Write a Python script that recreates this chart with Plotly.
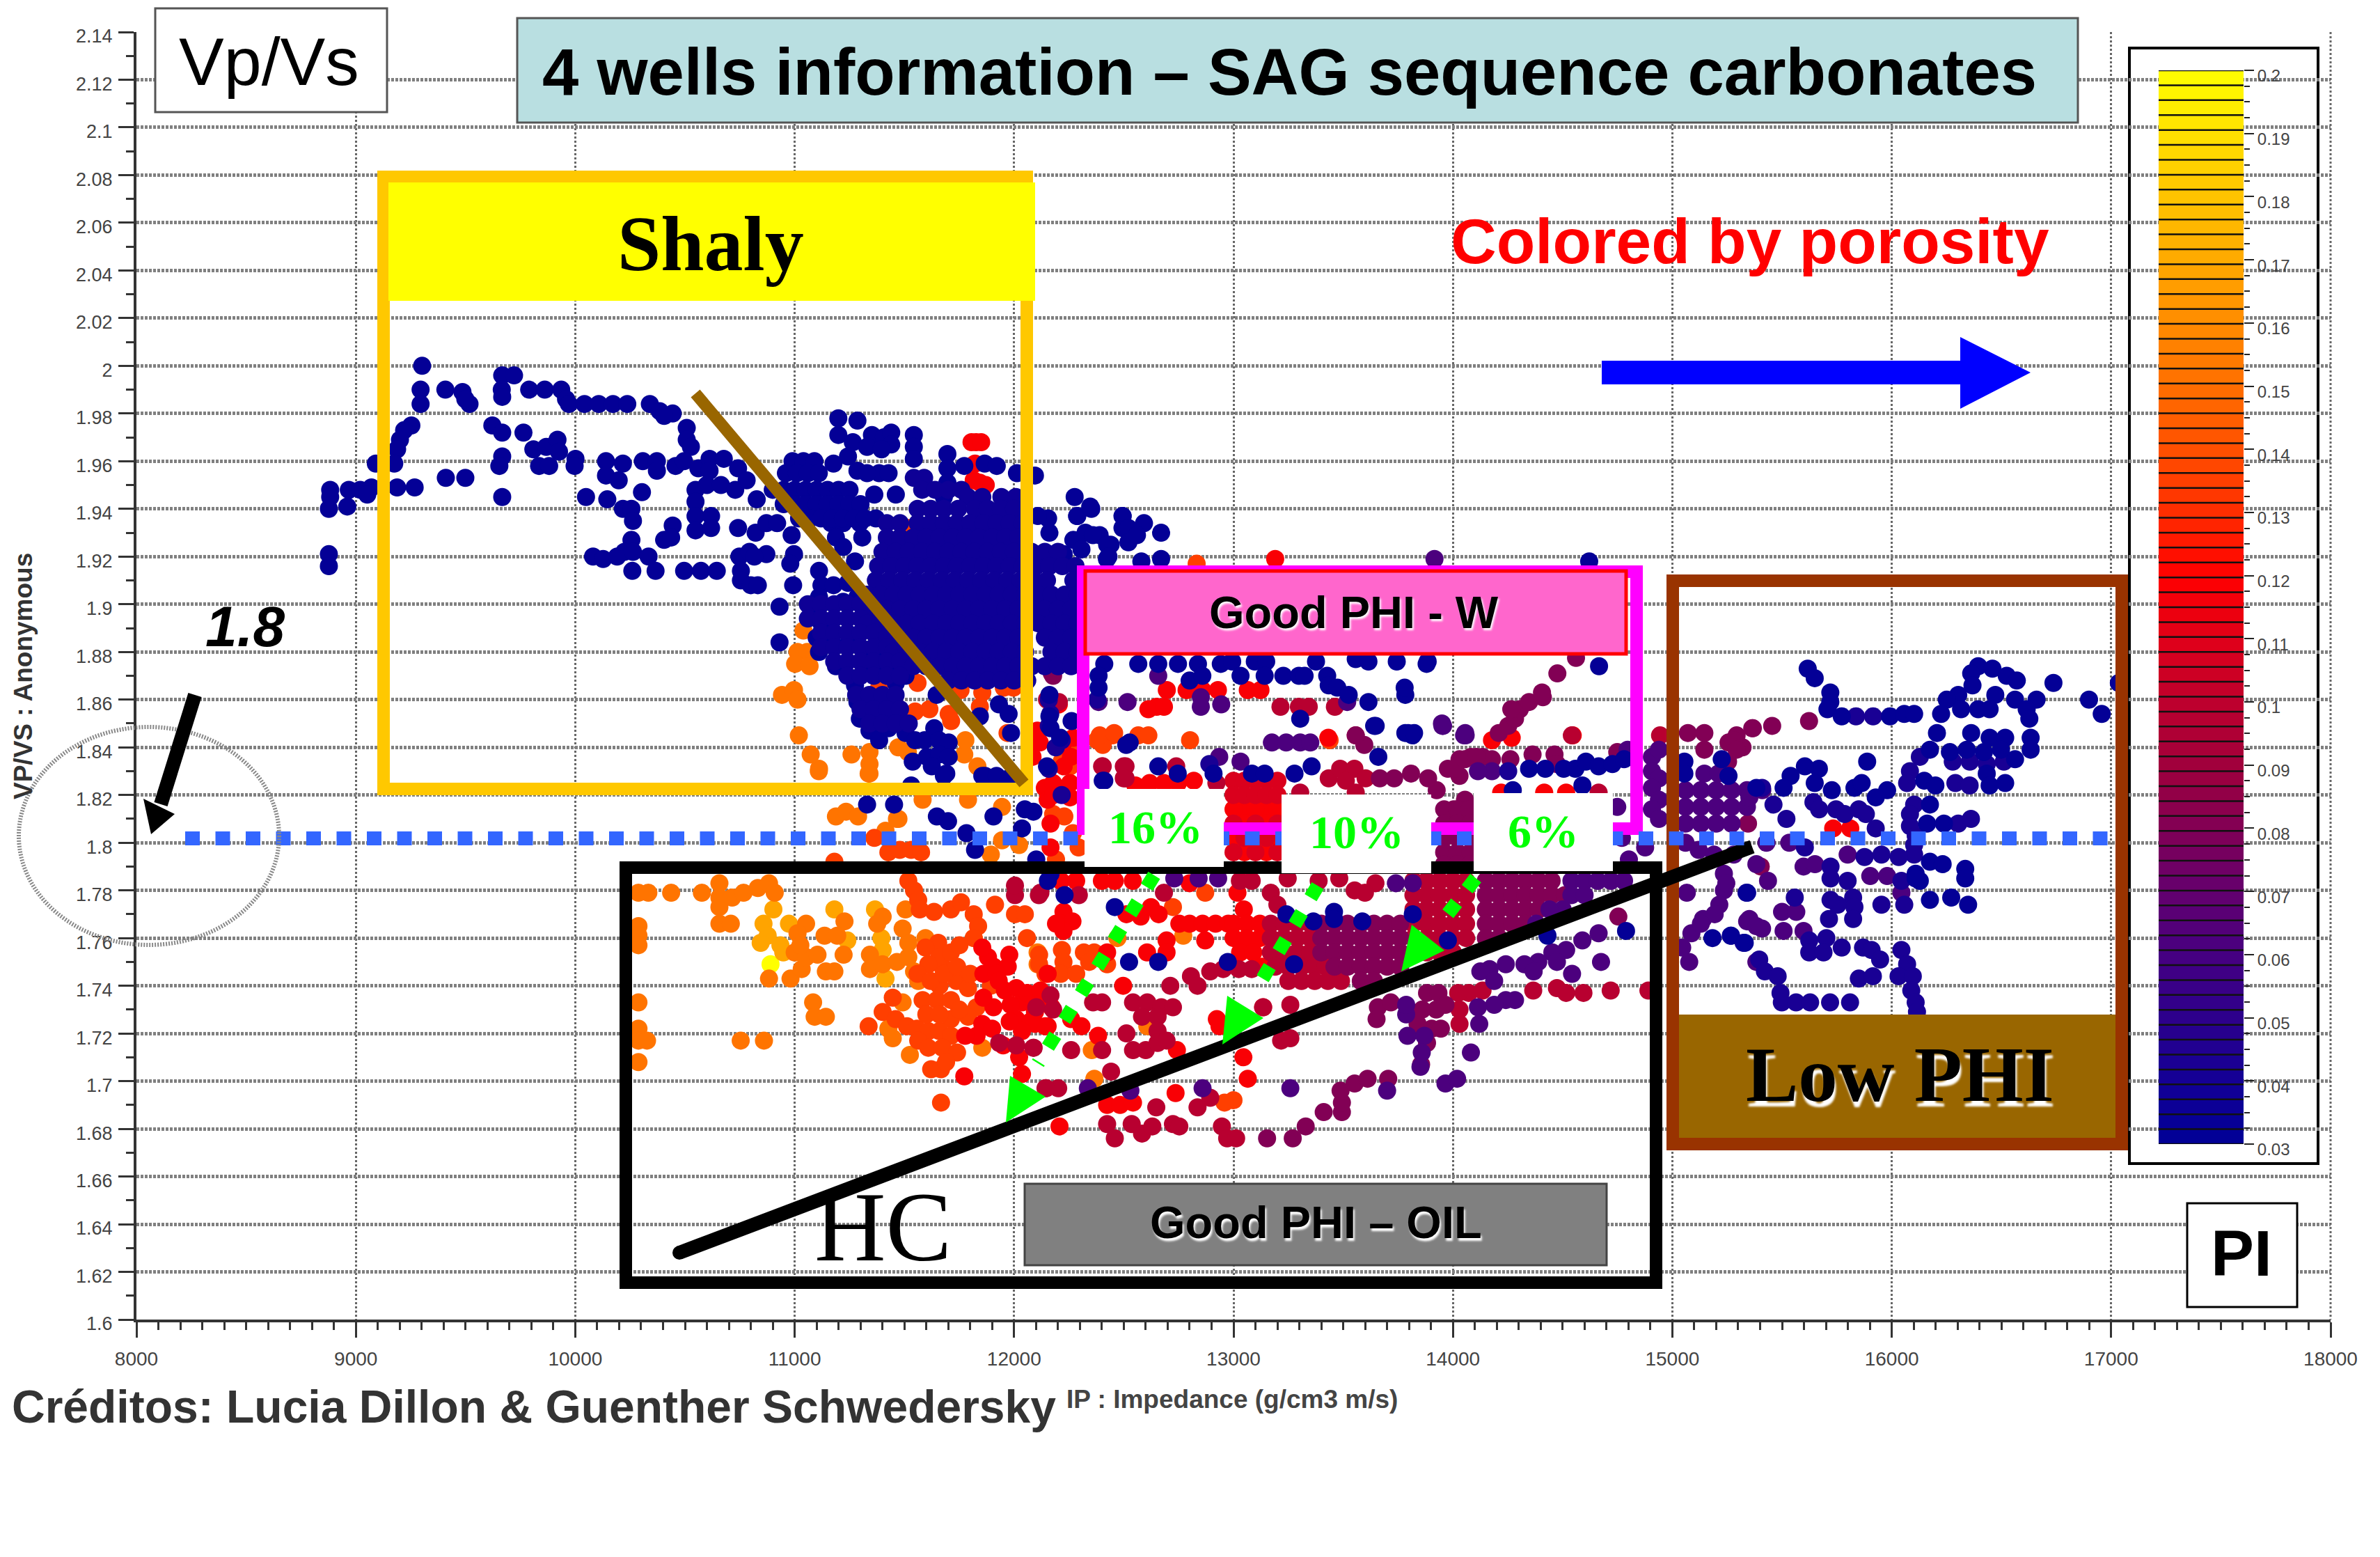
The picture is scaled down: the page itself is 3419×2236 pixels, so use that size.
import plotly.graph_objects as go

# page size and plot frame (page pixels)
W, H = 3419, 2236
L, R, T, B = 196, 3348, 46, 1895

ip_ticks = [8000, 9000, 10000, 11000, 12000, 13000, 14000, 15000, 16000, 17000, 18000]
vpvs_ticks = [1.6, 1.62, 1.64, 1.66, 1.68, 1.7, 1.72, 1.74, 1.76, 1.78, 1.8, 1.82, 1.84, 1.86,
              1.88, 1.9, 1.92, 1.94, 1.96, 1.98, 2, 2.02, 2.04, 2.06, 2.08, 2.1, 2.12, 2.14]
pi_ticks = [0.03, 0.04, 0.05, 0.06, 0.07, 0.08, 0.09, 0.1, 0.11, 0.12, 0.13, 0.14, 0.15, 0.16,
            0.17, 0.18, 0.19, 0.2]

pi_scale = [[0, "rgb(0,0,150)"], [0.059, "rgb(20,0,150)"], [0.118, "rgb(45,0,140)"],
            [0.176, "rgb(70,0,130)"], [0.235, "rgb(100,0,110)"], [0.294, "rgb(130,0,85)"],
            [0.353, "rgb(160,0,60)"], [0.412, "rgb(190,0,45)"], [0.471, "rgb(225,0,25)"],
            [0.529, "rgb(255,0,0)"], [0.588, "rgb(255,45,0)"], [0.647, "rgb(255,80,0)"],
            [0.706, "rgb(255,110,0)"], [0.765, "rgb(255,140,0)"], [0.824, "rgb(255,170,0)"],
            [0.882, "rgb(255,195,0)"], [0.941, "rgb(255,225,0)"], [1, "rgb(255,255,0)"]]

# points, (IP, VP/VS), one list per porosity colour
blue_pts = [
    (9302, 2.000), (9295, 1.990), (9295, 1.984), (9408, 1.990), (9486, 1.989), (9518, 1.984), (9499, 1.986),
    (9667, 1.996), (9721, 1.996), (9665, 1.990), (9667, 1.987), (9790, 1.990), (9861, 1.990), (9936, 1.990),
    (9958, 1.986), (9971, 1.984), (10042, 1.984), (10107, 1.984), (10172, 1.984), (10237, 1.984),
    (10340, 1.984), (10385, 1.981), (10444, 1.980), (10405, 1.979), (10508, 1.974), (10508, 1.969),
    (10527, 1.966), (9253, 1.975), (9220, 1.973), (9201, 1.969), (9188, 1.965), (9175, 1.959), (9091, 1.959),
    (8883, 1.948), (8877, 1.940), (8883, 1.945), (8961, 1.941), (8968, 1.948), (9020, 1.948), (9071, 1.949),
    (9052, 1.946), (9188, 1.949), (9268, 1.949), (9410, 1.953), (9499, 1.953), (9622, 1.975), (9667, 1.972),
    (9764, 1.972), (9667, 1.962), (9654, 1.958), (9667, 1.945), (9809, 1.965), (9868, 1.966), (9919, 1.969),
    (9926, 1.964), (9835, 1.958), (9881, 1.958), (10001, 1.961), (9997, 1.958), (10140, 1.960), (10140, 1.954),
    (10217, 1.959), (10198, 1.952), (10308, 1.960), (10372, 1.960), (10372, 1.956), (10457, 1.958),
    (10304, 1.947), (10049, 1.945), (10146, 1.944), (10217, 1.940), (10256, 1.940), (10263, 1.935),
    (10081, 1.920), (10127, 1.919), (10256, 1.927), (10224, 1.922), (10191, 1.920), (10263, 1.922),
    (10334, 1.920), (10260, 1.914), (10366, 1.914), (10496, 1.914), (10573, 1.914), (10645, 1.914),
    (8877, 1.921), (8877, 1.916), (10405, 1.927), (10444, 1.933), (10437, 1.928), (10548, 1.948), (10548, 1.943),
    (10548, 1.937), (10548, 1.931), (10619, 1.937), (10619, 1.932), (10742, 1.932), (10748, 1.920),
    (10755, 1.914), (10755, 1.910), (10800, 1.908), (10794, 1.922), (10496, 1.960), (10561, 1.957),
    (10612, 1.961), (10677, 1.961), (10612, 1.956), (10599, 1.950), (10664, 1.950), (10729, 1.948),
    (10742, 1.957), (10781, 1.952), (11199, 1.978), (11199, 1.971), (11286, 1.977), (11265, 1.968),
    (11352, 1.971), (11407, 1.970), (11440, 1.972), (11440, 1.967), (11330, 1.966), (11396, 1.965),
    (11543, 1.971), (11543, 1.966), (11543, 1.961), (11696, 1.963), (11696, 1.957), (11696, 1.951),
    (11680, 1.945), (11773, 1.958), (11866, 1.959), (11921, 1.958), (12013, 1.955), (12095, 1.954),
    (12276, 1.945), (12347, 1.941), (12287, 1.937), (12155, 1.936), (12161, 1.930), (12108, 1.937),
    (12226, 1.921), (12270, 1.927), (12325, 1.930), (12390, 1.929), (12440, 1.925), (12423, 1.919),
    (12494, 1.937), (12494, 1.932), (12288, 1.937), (12352, 1.940), (12495, 1.937), (12592, 1.934),
    (12670, 1.930), (12521, 1.932), (12521, 1.926), (12560, 1.929), (12307, 1.923), (12359, 1.929),
    (12424, 1.925), (12430, 1.920), (12580, 1.918), (12670, 1.919), (12411, 1.875), (12566, 1.875),
    (12657, 1.875), (12747, 1.875), (12838, 1.875), (12942, 1.875), (12994, 1.876), (13097, 1.876),
    (13149, 1.876), (13376, 1.876), (13557, 1.877), (13615, 1.876), (13744, 1.876), (13880, 1.875),
    (12385, 1.870), (12385, 1.865), (12800, 1.868), (12858, 1.870), (13032, 1.870), (13142, 1.870),
    (13227, 1.870), (13298, 1.870), (13324, 1.870), (13427, 1.870), (13434, 1.866), (13473, 1.865),
    (13525, 1.862), (13615, 1.859), (13783, 1.862), (13304, 1.852), (13648, 1.849), (13783, 1.846),
    (13816, 1.845), (13660, 1.836), (12527, 1.842), (12404, 1.826), (12657, 1.832), (12746, 1.829),
    (12909, 1.829), (13084, 1.829), (13142, 1.829), (13278, 1.829), (13356, 1.832), (14621, 1.918),
    (13885, 1.876), (13780, 1.865), (13641, 1.849), (13796, 1.846), (14666, 1.874), (13823, 1.846),
    (14421, 1.831), (14505, 1.831), (14558, 1.831), (14606, 1.834), (14664, 1.832), (14727, 1.833),
    (14780, 1.835), (14347, 1.831), (15055, 1.834), (15055, 1.829), (15225, 1.835), (15256, 1.828),
    (15383, 1.823), (12230, 1.778), (12459, 1.773), (12524, 1.750), (12657, 1.750), (12974, 1.750),
    (13276, 1.749), (13241, 1.770), (13364, 1.767), (13458, 1.771), (13458, 1.768), (13587, 1.767),
    (13817, 1.770), (12154, 1.784), (14273, 1.822), (14590, 1.824), (13977, 1.759), (14431, 1.761),
    (14789, 1.763), (15183, 1.760), (15267, 1.761), (15330, 1.758), (15341, 1.779),
    (11330, 1.816), (11453, 1.816), (11648, 1.811), (11699, 1.809), (11783, 1.804), (11822, 1.797),
    (11680, 1.828), (11868, 1.828), (11906, 1.811), (12049, 1.814), (12088, 1.813), (12036, 1.806),
    (12101, 1.793), (12166, 1.787), (11531, 1.824), (10822, 1.930), (10871, 1.934), (10920, 1.934),
    (10986, 1.929), (10871, 1.921), (10816, 1.920), (10997, 1.921), (10980, 1.917), (10832, 1.908),
    (10993, 1.908), (10931, 1.899), (10931, 1.884), (10827, 1.944), (11166, 1.934), (11221, 1.934),
    (11188, 1.928), (11221, 1.924), (11275, 1.918), (11308, 1.928), (11297, 1.934), (11111, 1.914),
    (11122, 1.908), (11111, 1.903), (11090, 1.897), (11122, 1.892), (11100, 1.886), (11111, 1.880),
    (11188, 1.874), (11177, 1.883), (11243, 1.883), (11221, 1.901), (11177, 1.908), (11243, 1.909),
    (11286, 1.903), (11319, 1.895), (11265, 1.886), (11319, 1.876), (11385, 1.881), (11450, 1.875),
    (11396, 1.873), (11275, 1.866), (11286, 1.859), (11352, 1.861), (11461, 1.867), (11505, 1.870),
    (11297, 1.852), (11374, 1.854), (11461, 1.855), (11341, 1.847), (11385, 1.843), (11428, 1.848),
    (11505, 1.846), (11549, 1.843), (11538, 1.834), (11592, 1.843), (11636, 1.848), (11658, 1.843),
    (11702, 1.842), (11603, 1.836), (11658, 1.837), (11702, 1.836), (11625, 1.832), (11691, 1.829),
    (11855, 1.828), (11920, 1.828), (11975, 1.827), (12150, 1.832), (11844, 1.853), (11931, 1.858),
    (11975, 1.854), (11986, 1.846), (11647, 1.862), (12161, 1.862), (12161, 1.853), (12166, 1.848),
    (12210, 1.844), (12262, 1.851), (12411, 1.826), (12511, 1.841),
    (10990, 1.960), (11040, 1.960), (11090, 1.960), (10960, 1.955), (11010, 1.955), (11060, 1.955),
    (11110, 1.955), (11177, 1.959), (11243, 1.962), (10900, 1.948), (10950, 1.948), (11000, 1.948),
    (11050, 1.948), (11100, 1.948), (11150, 1.948), (11200, 1.948), (11250, 1.948), (11286, 1.956),
    (11385, 1.955), (11428, 1.955), (11330, 1.955), (10950, 1.942), (11000, 1.942), (11050, 1.942),
    (11100, 1.942), (11150, 1.942), (11200, 1.942), (11250, 1.942), (11300, 1.942), (11363, 1.946),
    (11461, 1.946), (11020, 1.936), (11070, 1.936), (11120, 1.936), (11170, 1.936), (11220, 1.936),
    (11270, 1.936), (11320, 1.936), (11370, 1.936),
    (15617, 1.873), (15649, 1.869), (15720, 1.863), (15720, 1.859), (15707, 1.856), (15772, 1.853),
    (15992, 1.853), (16057, 1.854), (16102, 1.854), (16394, 1.874), (16362, 1.871), (16368, 1.866),
    (16459, 1.873), (16524, 1.870), (16570, 1.868), (16472, 1.862), (16562, 1.860), (16660, 1.860),
    (16615, 1.856), (16627, 1.852), (16303, 1.862), (16251, 1.860), (16225, 1.854), (16316, 1.856),
    (16394, 1.856), (16446, 1.856), (16737, 1.867), (16899, 1.860), (16957, 1.854), (17035, 1.867),
    (16206, 1.846), (16362, 1.846), (16446, 1.844), (16517, 1.844), (16633, 1.844), (16633, 1.839),
    (16174, 1.839), (16265, 1.838), (16342, 1.839), (16420, 1.838), (16498, 1.839), (16562, 1.835),
    (16148, 1.826), (16199, 1.824), (16433, 1.829), (16446, 1.824), (16517, 1.825),
    (16174, 1.816), (16174, 1.776), (16271, 1.777), (16348, 1.774), (16161, 1.808), (16238, 1.808),
    (16174, 1.792), (16232, 1.791), (16335, 1.789), (16335, 1.785), (16109, 1.787), (16128, 1.784),
    (15888, 1.834), (15830, 1.823), (15863, 1.825), (15979, 1.822), (15927, 1.819), (15727, 1.822),
    (15668, 1.831), (15604, 1.832), (15539, 1.828), (15507, 1.823), (15649, 1.825), (16109, 1.785),
]

indigo_pts = [
    (11837, 1.899), (12379, 1.860), (12190, 1.840), (12217, 1.843), (12158, 1.860), (12165, 1.854),
    (12158, 1.849), (12217, 1.820), (12158, 1.831), (12890, 1.833), (14252, 1.830),
    (15837, 1.853), (15915, 1.853), (16128, 1.836), (16083, 1.830), (16070, 1.825), (16290, 1.825),
    (16355, 1.824), (16278, 1.834), (16356, 1.834), (16433, 1.833), (16511, 1.834), (16102, 1.816),
    (16083, 1.812), (16083, 1.807), (16303, 1.808), (16361, 1.810), (16109, 1.803), (16102, 1.799),
    (16102, 1.795), (15461, 1.816), (15520, 1.810), (15409, 1.823), (15643, 1.817), (15669, 1.814),
    (15746, 1.814), (15785, 1.812), (15850, 1.814), (15882, 1.812), (15927, 1.806), (15604, 1.798),
    (15721, 1.790), (15876, 1.794), (15953, 1.795), (16032, 1.794), (15721, 1.785), (15799, 1.784),
    (16044, 1.784), (15721, 1.776), (15824, 1.777), (15830, 1.773), (15824, 1.768), (15753, 1.774),
    (15953, 1.774), (16057, 1.774), (15714, 1.768), (15338, 1.779), (15558, 1.777), (15267, 1.761),
    (15325, 1.758), (15624, 1.759), (15702, 1.760), (15624, 1.754), (15689, 1.754), (15772, 1.756),
    (15869, 1.756), (15908, 1.755), (15947, 1.751), (16044, 1.755), (15396, 1.751), (15422, 1.746),
    (15480, 1.744), (15493, 1.737), (15499, 1.733), (15564, 1.733), (15628, 1.733), (15719, 1.733),
    (15810, 1.733), (15850, 1.743), (15914, 1.744), (16070, 1.749), (16031, 1.744), (16096, 1.744),
    (16089, 1.738), (16109, 1.733), (16115, 1.729),
]

purple_pts = [
    (12657, 1.870), (12517, 1.859), (12385, 1.859), (12851, 1.861), (12851, 1.857), (12944, 1.858),
    (13518, 1.859), (13952, 1.849), (14058, 1.845), (13175, 1.842), (13240, 1.842), (13304, 1.842),
    (13350, 1.842), (12935, 1.836), (13032, 1.834), (13916, 1.919), (13950, 1.850), (14056, 1.846),
    (13955, 1.849), (14051, 1.845), (14796, 1.839), (14907, 1.836), (14939, 1.839), (14907, 1.830),
    (14939, 1.827), (14907, 1.823), (14939, 1.818), (14907, 1.814), (14939, 1.810), (14178, 1.830),
    (14114, 1.830), (14749, 1.815), (14802, 1.793), (14876, 1.798), (14770, 1.802),
    (15060, 1.822), (15130, 1.822), (15200, 1.822), (15270, 1.822), (15340, 1.822), (15410, 1.822),
    (15060, 1.815), (15130, 1.815), (15200, 1.815), (15270, 1.815), (15340, 1.815), (15060, 1.808),
    (15130, 1.808), (15200, 1.808), (15270, 1.808), (15146, 1.829), (15210, 1.829), (15351, 1.819),
    (15060, 1.800), (15120, 1.797), (15190, 1.795), (15280, 1.795), (15429, 1.800), (15533, 1.800),
    (15598, 1.790), (15650, 1.791), (15799, 1.795), (15902, 1.786), (15979, 1.786), (16044, 1.779),
    (15500, 1.771), (15565, 1.771), (15351, 1.768), (15409, 1.764), (15507, 1.763), (15598, 1.763),
    (15066, 1.779), (15140, 1.768), (15087, 1.762), (15045, 1.756), (15077, 1.750), (15235, 1.787),
    (15235, 1.780), (15214, 1.774), (15193, 1.770), (15130, 1.766), (15341, 1.767), (15383, 1.765),
    (15383, 1.791), (15383, 1.750), (15246, 1.783), (15436, 1.784),
    (14664, 1.762), (14590, 1.759), (14516, 1.755), (14453, 1.754), (14389, 1.750), (14326, 1.749),
    (14368, 1.746), (14474, 1.750), (14675, 1.750), (14543, 1.745), (14241, 1.734), (14283, 1.734),
    (14188, 1.732), (14114, 1.731), (14167, 1.747), (14125, 1.746), (14241, 1.749), (14188, 1.742),
    (14120, 1.724), (14082, 1.712), (13966, 1.699), (14019, 1.701), (12336, 1.697), (12530, 1.696),
    (12859, 1.697), (13259, 1.697), (13700, 1.696), (13740, 1.783), (13817, 1.783), (12730, 1.785),
    (12841, 1.785), (12930, 1.785), (13787, 1.728), (13793, 1.719), (13870, 1.719), (13858, 1.712),
    (13852, 1.706), (13787, 1.732), (14540, 1.784), (14600, 1.784), (14660, 1.784), (14720, 1.784),
    (14780, 1.784), (14540, 1.778), (14600, 1.778), (14500, 1.772), (14440, 1.772), (14380, 1.766),
]

maroon_pts = [
    (12178, 1.870), (12172, 1.871), (13596, 1.841), (13557, 1.845), (14209, 1.846), (14252, 1.849),
    (14283, 1.852), (14305, 1.856), (14347, 1.859), (14410, 1.861), (14266, 1.856), (14406, 1.863),
    (14476, 1.871), (14561, 1.8775), (15071, 1.846), (15146, 1.846), (15367, 1.848), (15293, 1.845),
    (15256, 1.842), (15320, 1.840), (15146, 1.839), (15280, 1.843), (15293, 1.839), (15254, 1.834),
    (15364, 1.848), (15455, 1.849), (15623, 1.851), (15345, 1.808), (15403, 1.790), (14749, 1.838),
    (14463, 1.837), (14474, 1.833), (14363, 1.837), (14262, 1.835), (14178, 1.835), (14135, 1.836),
    (14082, 1.836), (14030, 1.835), (13977, 1.831), (14030, 1.828), (14004, 1.831), (14055, 1.835),
    (14107, 1.836), (14004, 1.814), (14055, 1.818), (14068, 1.812), (13926, 1.822), (13887, 1.827),
    (13809, 1.829), (13732, 1.827), (13667, 1.827), (13960, 1.814), (14020, 1.814), (14075, 1.814),
    (13960, 1.808), (14020, 1.808), (14080, 1.808), (13960, 1.802), (14020, 1.802), (14080, 1.802),
    (13960, 1.796), (14020, 1.796), (14080, 1.796), (13960, 1.791), (14020, 1.791), (14080, 1.791),
    (14754, 1.769), (13882, 1.737), (13934, 1.737), (13924, 1.730), (13966, 1.732), (13860, 1.730),
    (13839, 1.724), (13903, 1.722), (13945, 1.722), (13882, 1.716), (13855, 1.707), (13153, 1.676),
    (13270, 1.676), (13329, 1.681), (13411, 1.687), (13494, 1.687), (13494, 1.691), (13488, 1.696),
    (13552, 1.699), (13611, 1.701), (13705, 1.701), (13658, 1.731), (13717, 1.733), (13652, 1.726),
    (14150, 1.784), (14210, 1.784), (14270, 1.784), (14330, 1.784), (14390, 1.784), (14450, 1.784),
    (14150, 1.778), (14210, 1.778), (14270, 1.778), (14330, 1.778), (14390, 1.778), (14450, 1.778),
    (14510, 1.778), (14150, 1.772), (14210, 1.772), (14270, 1.772), (14330, 1.772), (14390, 1.772),
    (14150, 1.766), (14210, 1.766), (14270, 1.766), (14330, 1.766), (14150, 1.760), (14210, 1.760),
    (13400, 1.766), (13460, 1.766), (13520, 1.766), (13580, 1.766), (13640, 1.766), (13700, 1.766),
    (13760, 1.766), (13400, 1.760), (13460, 1.760), (13520, 1.760), (13580, 1.760), (13640, 1.760),
    (13700, 1.760), (13760, 1.760), (13400, 1.754), (13460, 1.754), (13520, 1.754), (13580, 1.754),
    (13640, 1.754), (13700, 1.754), (13760, 1.754), (13460, 1.748), (13520, 1.748), (13580, 1.748),
    (13640, 1.748), (13700, 1.748), (13760, 1.748), (13580, 1.742), (13640, 1.742),
]

crimson_pts = [
    (13462, 1.857), (13214, 1.857), (13298, 1.857), (13343, 1.857), (13557, 1.845), (12404, 1.832),
    (12508, 1.832), (12508, 1.827), (12739, 1.832), (12922, 1.825), (13434, 1.827), (13486, 1.831),
    (13551, 1.831), (13602, 1.827), (13512, 1.826), (13557, 1.821), (13304, 1.821), (14072, 1.737),
    (14135, 1.738), (14024, 1.737), (14030, 1.730), (14030, 1.724), (14366, 1.738), (14474, 1.739),
    (14516, 1.737), (14595, 1.737), (14719, 1.738), (14891, 1.738), (14664, 1.821), (14542, 1.845),
    (14944, 1.845), (12401, 1.832), (12500, 1.832), (12500, 1.827), (12150, 1.860), (12204, 1.859),
    (12113, 1.778), (12295, 1.778), (12683, 1.779), (13170, 1.779), (13200, 1.774), (12712, 1.740),
    (12806, 1.744), (12836, 1.740), (12894, 1.746), (12953, 1.747), (13024, 1.747), (13083, 1.747),
    (12360, 1.733), (12401, 1.733), (12542, 1.733), (12607, 1.733), (12671, 1.731), (12724, 1.731),
    (12583, 1.727), (12654, 1.727), (12654, 1.721), (12512, 1.720), (12542, 1.713), (12600, 1.713),
    (12654, 1.716), (12695, 1.717), (13135, 1.731), (13259, 1.732), (12089, 1.714), (12260, 1.713),
    (12401, 1.713), (12143, 1.697), (12201, 1.697), (12442, 1.704), (12894, 1.693), (12836, 1.689),
    (12648, 1.689), (12424, 1.682), (12459, 1.676), (12536, 1.682), (12583, 1.678), (12630, 1.681),
    (12724, 1.682), (12753, 1.681), (12947, 1.681), (12971, 1.676), (13012, 1.676), (13217, 1.717),
    (13259, 1.718), (12004, 1.778), (12004, 1.782), (12120, 1.779), (12101, 1.731), (12166, 1.736),
    (12178, 1.730), (11932, 1.716), (12010, 1.715), (12088, 1.714), (12146, 1.697), (13029, 1.784),
    (13083, 1.784), (13247, 1.785), (13388, 1.784), (13482, 1.785), (13552, 1.780), (13647, 1.783),
    (13599, 1.779), (13170, 1.766), (13230, 1.766), (13290, 1.766), (13350, 1.766), (13170, 1.760),
    (13230, 1.760), (13290, 1.760), (13350, 1.760), (13170, 1.754), (13230, 1.754), (13290, 1.754),
    (13350, 1.754), (13190, 1.748), (13250, 1.748), (13310, 1.748), (13370, 1.748), (13420, 1.748),
    (13250, 1.742), (13310, 1.742), (13370, 1.742), (13430, 1.742), (13490, 1.742),
    (13820, 1.784), (13880, 1.784), (13940, 1.784), (14000, 1.784), (14060, 1.784), (13820, 1.778),
    (13880, 1.778), (13940, 1.778), (14000, 1.778), (14060, 1.778), (13820, 1.772), (13880, 1.772),
    (13940, 1.772), (14000, 1.772), (14060, 1.772), (13820, 1.766), (13880, 1.766), (13940, 1.766),
    (14000, 1.766), (14060, 1.766), (13820, 1.760), (13880, 1.760), (13940, 1.760), (14000, 1.760),
    (14060, 1.760), (13820, 1.754), (13880, 1.754), (13940, 1.754), (14000, 1.754),
]

# red with a touch of crimson, the block between the 16% and 10% boxes
scarlet_pts = [
    (13000, 1.826), (13050, 1.826), (13100, 1.826), (13150, 1.826), (13200, 1.826), (13000, 1.820),
    (13050, 1.820), (13100, 1.820), (13150, 1.820), (13200, 1.820), (13000, 1.808), (13100, 1.808),
    (13200, 1.808), (13050, 1.802), (13150, 1.802), (13000, 1.796), (13100, 1.796), (13200, 1.796),
]

red_pts = [
    (11827, 1.968), (11806, 1.968), (11850, 1.968), (11822, 1.959), (11844, 1.951), (11816, 1.952),
    (11871, 1.950), (13190, 1.919), (12696, 1.864), (12650, 1.857), (12612, 1.856), (12683, 1.857),
    (12786, 1.864), (12858, 1.864), (12929, 1.864), (13065, 1.864), (13123, 1.864), (12204, 1.858),
    (12553, 1.824), (12618, 1.825), (12683, 1.825), (12747, 1.825), (12819, 1.826), (14178, 1.843),
    (14268, 1.844), (14546, 1.845), (13432, 1.844), (14220, 1.821), (14416, 1.821), (14516, 1.821),
    (15733, 1.806), (15811, 1.806), (12106, 1.847), (12117, 1.842), (12084, 1.836), (12226, 1.842),
    (12259, 1.836), (12226, 1.832), (12270, 1.844), (12225, 1.771), (12213, 1.766), (12266, 1.767),
    (12225, 1.763), (13018, 1.779), (13047, 1.772), (12512, 1.770), (12577, 1.769), (12624, 1.773),
    (12659, 1.770), (12753, 1.766), (12800, 1.766), (12859, 1.766), (12918, 1.766), (12976, 1.766),
    (12871, 1.759), (12695, 1.759), (12695, 1.754), (12606, 1.754), (12424, 1.754), (12497, 1.740),
    (12383, 1.719), (12742, 1.713), (12924, 1.726), (12936, 1.723), (13135, 1.731), (12083, 1.735),
    (12130, 1.735), (12171, 1.731), (12095, 1.729), (12095, 1.724), (12142, 1.723), (12260, 1.726),
    (12307, 1.723), (12736, 1.695), (13065, 1.701), (13045, 1.710), (12424, 1.690), (12483, 1.690),
    (12542, 1.691), (12207, 1.681), (12213, 1.784), (12283, 1.784), (12400, 1.784), (12459, 1.784),
    (12541, 1.784), (12800, 1.783), (12140, 1.823), (12153, 1.818), (12166, 1.808), (12166, 1.798),
    (11881, 1.752), (11907, 1.748), (11855, 1.756), (11978, 1.753), (11971, 1.748), (12153, 1.745),
    (12191, 1.766), (11958, 1.738), (12010, 1.739), (12036, 1.733), (11984, 1.732), (11906, 1.731),
    (12010, 1.726), (12075, 1.725), (12153, 1.723), (12036, 1.721), (11855, 1.724), (12023, 1.710),
    (12036, 1.703), (11773, 1.702), (11829, 1.719), (11777, 1.719), (13050, 1.814), (13150, 1.814),
    (13000, 1.814), (13100, 1.814), (13200, 1.814), (13050, 1.808), (13150, 1.808), (13000, 1.802),
    (13100, 1.802), (13200, 1.802), (13050, 1.796), (13150, 1.796), (13000, 1.766), (13060, 1.766),
    (13120, 1.766), (13000, 1.760), (13060, 1.760), (13120, 1.760), (13030, 1.754), (13090, 1.754),
    (13130, 1.748), (12178, 1.825), (12255, 1.825), (12178, 1.820), (12255, 1.819),
    (11860, 1.745), (11920, 1.745), (11860, 1.735), (11930, 1.742), (11980, 1.725), (11900, 1.722),
    (12060, 1.737), (12120, 1.738), (11950, 1.715),
]

redorange_pts = [
    (12378, 1.843), (12449, 1.845), (12404, 1.841), (12566, 1.845), (12612, 1.845), (12802, 1.843),
    (13438, 1.843), (12832, 1.917), (11516, 1.932), (11560, 1.867), (11538, 1.875), (11385, 1.865),
    (11325, 1.872), (11549, 1.855), (11614, 1.856), (11702, 1.854), (11713, 1.851), (11756, 1.864),
    (11855, 1.863), (11953, 1.865), (11997, 1.865), (11844, 1.857), (11970, 1.846), (12390, 1.845),
    (12456, 1.846), (12255, 1.840), (12217, 1.834), (12255, 1.832), (12178, 1.812), (12229, 1.811),
    (12268, 1.804), (12191, 1.793), (12294, 1.798), (11427, 1.796), (11479, 1.797), (11531, 1.797),
    (11576, 1.796), (11363, 1.802), (11518, 1.784), (11544, 1.780), (11563, 1.776), (11570, 1.772),
    (11635, 1.771), (11712, 1.772), (11758, 1.775), (11816, 1.770), (11836, 1.765), (11816, 1.760),
    (11913, 1.774), (12004, 1.770), (12049, 1.770), (12059, 1.760), (12114, 1.753), (12114, 1.749),
    (11654, 1.758), (11596, 1.756), (11583, 1.734), (11648, 1.734), (11712, 1.734), (11660, 1.740),
    (11738, 1.742), (11790, 1.739), (11673, 1.748), (11660, 1.752), (11712, 1.754), (11751, 1.757),
    (11609, 1.749), (11894, 1.740), (11829, 1.731), (11790, 1.727), (11712, 1.726), (11447, 1.735),
    (11401, 1.729), (11460, 1.726), (11337, 1.723), (11512, 1.723), (11557, 1.722), (11609, 1.721),
    (11563, 1.717), (11660, 1.721), (11712, 1.719), (11609, 1.714), (11673, 1.714), (11622, 1.705),
    (11667, 1.705), (11667, 1.691), (12871, 1.779), (12724, 1.773), (12218, 1.755), (12318, 1.754),
    (12365, 1.754), (12225, 1.750), (12342, 1.750), (12143, 1.745), (12213, 1.745), (12283, 1.745),
    (12424, 1.749), (13000, 1.692), (12959, 1.691), (11181, 1.792),
    (11560, 1.745), (11620, 1.742), (11680, 1.745), (11740, 1.748), (11800, 1.745), (11600, 1.728),
    (11660, 1.728), (11750, 1.730), (11740, 1.712), (11690, 1.708),
]

orange_pts = [
    (11040, 1.889), (11013, 1.880), (11057, 1.880), (11002, 1.875), (11068, 1.874), (10942, 1.862),
    (10997, 1.864), (11013, 1.860), (11019, 1.845), (11073, 1.837), (11111, 1.831), (11259, 1.837),
    (11341, 1.838), (11341, 1.833), (11341, 1.829), (11472, 1.840), (11516, 1.838), (11773, 1.837),
    (11833, 1.832), (11778, 1.843), (11110, 1.830), (11337, 1.829), (11188, 1.811), (11234, 1.813),
    (11289, 1.811), (11473, 1.810), (11583, 1.818), (11790, 1.818), (11945, 1.815), (11945, 1.801),
    (12023, 1.799), (11894, 1.795), (11414, 1.805), (11466, 1.810), (10288, 1.779), (10333, 1.779),
    (10437, 1.779), (10577, 1.779), (10657, 1.783), (10657, 1.777), (10657, 1.773), (10715, 1.777),
    (10767, 1.779), (10832, 1.781), (10883, 1.783), (10909, 1.779), (10657, 1.766), (10709, 1.766),
    (10288, 1.765), (10288, 1.761), (10288, 1.757), (10883, 1.743), (10981, 1.743), (11032, 1.747),
    (11000, 1.754), (11052, 1.752), (11104, 1.753), (11052, 1.766), (11013, 1.762), (11026, 1.757),
    (11227, 1.767), (11136, 1.761), (11194, 1.761), (11223, 1.753), (11142, 1.746), (11181, 1.746),
    (10288, 1.733), (10288, 1.722), (10288, 1.717), (10327, 1.717), (10288, 1.708), (10754, 1.717),
    (10860, 1.717), (11084, 1.733), (11091, 1.727), (11142, 1.727), (11401, 1.769), (11376, 1.766),
    (11343, 1.753), (11343, 1.747), (11401, 1.749), (11466, 1.750), (11492, 1.764), (11518, 1.758),
    (11596, 1.760), (11518, 1.752), (11544, 1.746), (11563, 1.742), (11505, 1.772), (11816, 1.760),
    (11492, 1.733), (11427, 1.722), (11447, 1.718), (11855, 1.714), (11525, 1.711), (12107, 1.754),
    (12107, 1.749), (12771, 1.761), (12471, 1.760), (12354, 1.713), (12607, 1.723), (12366, 1.701),
]

amber_pts = [
    (10903, 1.772), (10858, 1.766), (10877, 1.761), (10845, 1.758), (10935, 1.757), (10948, 1.754),
    (10974, 1.766), (11181, 1.772), (11240, 1.759), (11366, 1.772), (11395, 1.760), (11401, 1.755),
    (11414, 1.743),
]

yellow_pts = [(10890, 1.749)]

# dense middle of the main cloud, typed row by row: VP/VS -> IP values
core_rows = {
    1.953: [11543, 11590],
    1.948: [11581, 11640, 11700, 11760],
    1.945: [11789, 11855, 11942, 12008],
    1.940: [11560, 11620, 11680, 11745, 11822, 11880, 11940, 12000],
    1.934: [11420, 11480, 11560, 11620, 11680, 11740, 11800, 11860, 11920, 11980, 12040],
    1.928: [11420, 11480, 11540, 11600, 11660, 11720, 11780, 11840, 11900, 11960, 12020],
    1.922: [11400, 11460, 11520, 11580, 11640, 11700, 11760, 11820, 11880, 11940, 12000, 12080, 12140, 12200],
    1.916: [11380, 11440, 11500, 11560, 11620, 11680, 11740, 11800, 11860, 11920, 11980, 12040, 12100, 12160,
            12220, 12280],
    1.910: [11370, 11430, 11490, 11550, 11610, 11670, 11730, 11790, 11850, 11910, 11970, 12030, 12090, 12150,
            12270],
    1.904: [11330, 11390, 11450, 11510, 11570, 11630, 11690, 11750, 11810, 11870, 11930, 11990, 12050, 12110,
            12170, 12230, 12290],
    1.900: [11060, 11120, 11180, 11240, 11300],
    1.898: [11360, 11420, 11480, 11540, 11600, 11660, 11720, 11780, 11840, 11900, 11960, 12020, 12080, 12140,
            12200, 12260],
    1.894: [11060, 11120, 11180, 11240, 11300],
    1.892: [11330, 11390, 11450, 11510, 11570, 11630, 11690, 11750, 11810, 11870, 11930, 11990, 12050, 12110,
            12170, 12230, 12290],
    1.888: [11120, 11180, 11240, 11300, 11360],
    1.886: [11420, 11480, 11540, 11600, 11660, 11720, 11780, 11840, 11900, 11960, 12020, 12140, 12200, 12260],
    1.882: [11120, 11180, 11240, 11300, 11360, 11420],
    1.880: [11450, 11510, 11570, 11630, 11690, 11750, 11810, 11870, 11930, 11990, 12050, 12170, 12230, 12290],
    1.876: [11180, 11240, 11300, 11360, 11420, 11480],
    1.874: [11540, 11600, 11660, 11720, 11780, 11840, 11900, 11960, 12020, 12080, 12140, 12200, 12260],
    1.870: [11240, 11300, 11360, 11420, 11480],
    1.868: [11700, 11760, 11820, 11880, 11940, 12000, 12060],
    1.862: [11280, 11340, 11400, 11460],
    1.856: [11300, 11360, 11420, 11480],
    1.850: [11340, 11400, 11460, 11520],
}

# porosity given to each colour group, drawn from high porosity up to the blue
groups = [(yellow_pts, 0.2), (amber_pts, 0.168), (orange_pts, 0.152), (redorange_pts, 0.135), (red_pts, 0.118),
          (scarlet_pts, 0.108), (crimson_pts, 0.098), (maroon_pts, 0.08), (purple_pts, 0.062), (indigo_pts, 0.042),
          (blue_pts, 0.032)]

ip, vpvs, phi = [], [], []
for pts, p in groups:
    for a, b in pts:
        ip.append(a)
        vpvs.append(b)
        phi.append(p)
for y_row, xs in core_rows.items():
    for a in xs:
        ip.append(a)
        vpvs.append(y_row)
        phi.append(0.037)


def px(x):
    return (x - L) / (R - L)


def py(y):
    return (B - y) / (B - T)


fig = go.Figure()

fig.add_trace(go.Scatter(
    x=ip, y=vpvs, mode="markers", showlegend=False, hoverinfo="skip",
    marker=dict(size=26, color=phi, cmin=0.03, cmax=0.2, colorscale=pi_scale, line=dict(width=0)),
))

# the colour key on its own small axes, black rules between the bands
n_bands = 72
levels = [0.03 + 0.17 * (i + 0.5) / n_bands for i in range(n_bands)]
fig.add_trace(go.Heatmap(
    z=[[v] for v in levels], y=levels, x=[0], xaxis="x2", yaxis="y2",
    zmin=0.03, zmax=0.2, colorscale=pi_scale, showscale=False, hoverinfo="skip",
))
rule_x, rule_y = [], []
for i in range(n_bands + 1):
    v = 0.03 + 0.17 * i / n_bands
    rule_x += [-0.5, 0.5, None]
    rule_y += [v, v, None]
fig.add_trace(go.Scatter(x=rule_x, y=rule_y, xaxis="x2", yaxis="y2", mode="lines", showlegend=False,
                         hoverinfo="skip", line=dict(color="#111111", width=2.5), cliponaxis=False))


def rect(x0, y0, x1, y1, fill=None, line=None, lw=0, dash=None, kind="rect"):
    fig.add_shape(type=kind, xref="paper", yref="paper", x0=px(x0), x1=px(x1), y0=py(y0), y1=py(y1),
                  fillcolor=fill, line=dict(color=line, width=lw, dash=dash))


def seg(x0, y0, x1, y1, color, lw, dash=None):
    fig.add_shape(type="line", xref="paper", yref="paper", x0=px(x0), x1=px(x1), y0=py(y0), y1=py(y1),
                  line=dict(color=color, width=lw, dash=dash))


def poly(points, color):
    fig.add_shape(type="path", xref="paper", yref="paper", fillcolor=color, line=dict(width=0),
                  path="M " + " L ".join(f"{px(a)},{py(b)}" for a, b in points) + " Z")


def label(text, x, y, size, color="black", family="Liberation Sans", weight=400, style="normal",
          shadow=None, angle=0):
    font = dict(family=family, size=size, color=color, weight=weight, style=style)
    if shadow:
        font["shadow"] = shadow
    fig.add_annotation(text=text, xref="paper", yref="paper", x=px(x), y=py(y), showarrow=False,
                       font=font, textangle=angle, xanchor="center", yanchor="middle")


# key panel sits over the grid but under the key itself
def dx(x):
    return 8000 + (x - L) / (R - L) * 10000


def dy(y):
    return 1.6 + (B - y) / (B - T) * 0.54


fig.add_shape(type="rect", xref="x", yref="y", layer="below", x0=dx(3059), x1=dx(3330), y0=dy(69), y1=dy(1671),
              fillcolor="white", line=dict(color="black", width=4))

# right hand frame line of the grid
seg(R, T, R, B, "#666666", 3, dash="3px,3px")

# top boxes
rect(223, 12, 556, 161, "white", "#555555", 3)
rect(743, 26, 2985, 176, "#b9dfe1", "#555555", 3)
label("Vp/Vs", 386, 88, 97)
label("4 wells information – SAG sequence carbonates", 1852, 103, 94, weight=700)

# shaly box
rect(551, 254, 1475, 1133, None, "#ffc800", 18)
rect(558, 262, 1487, 432, "#ffff00")
label("Shaly", 1021, 350, 112, family="Liberation Serif", weight=700)
seg(999, 565, 1471, 1125, "#996600", 17)

# water box outline
rect(1556, 821, 2351, 1190, None, "#ff00ff", 18)

# low porosity box
rect(2403, 834, 3048, 1643, None, "#993300", 18)
rect(2412, 1457, 3039, 1634, "#996600")
label("Low PHI", 2729, 1542, 113, family="Liberation Serif", weight=700, shadow="2px 8px 3px #ffffff")

# oil box and trend line
rect(899, 1246, 2379, 1842, None, "black", 18)
seg(976, 1799, 2517, 1216, "black", 20)
rect(966, 1789, 986, 1809, "black", kind="circle")
label("HC", 1268, 1762, 142, family="Liberation Serif")

# 1.8 reference line
seg(266, 1204, 3039, 1204, "#3366ff", 20, dash="21px,22.5px")

rect(1559, 820, 2336, 939, "#ff66cc", "#ff0000", 5)
label("Good PHI - W", 1945, 879, 65, weight=700, shadow="2px 3px 3px #ffffff")
rect(1472, 1700, 2308, 1817, "#808080", "#444444", 3)
label("Good PHI – OIL", 1890, 1755, 65, weight=700, shadow="2px 4px 3px #ffffff")

rect(1558, 1133, 1758, 1245, "white")
rect(1841, 1141, 2056, 1254, "white")
rect(2117, 1139, 2317, 1251, "white")
label("16%", 1660, 1188, 68, color="#00ff00", family="Liberation Serif", weight=700)
label("10%", 1949, 1195, 68, color="#00ff00", family="Liberation Serif", weight=700)
label("6%", 2217, 1194, 68, color="#00ff00", family="Liberation Serif", weight=700)

# green porosity arrows
seg(1658, 1257, 1491, 1527, "#00ff00", 20, dash="20px,25px")
seg(1893, 1272, 1804, 1422, "#00ff00", 20, dash="20px,25px")
seg(2120, 1261, 2067, 1329, "#00ff00", 20, dash="20px,25px")
poly([(1451, 1545), (1502, 1575), (1445, 1612)], "#00ff00")
poly([(1763, 1430), (1815, 1462), (1756, 1500)], "#00ff00")
poly([(2028, 1328), (2075, 1365), (2013, 1395)], "#00ff00")

# 1.8 callout at left
rect(27, 1044, 401, 1357, None, "#888888", 6, dash="2px,2px", kind="circle")
label("1.8", 352, 899, 82, weight=700, style="italic")
seg(280, 998, 231, 1155, "black", 20)
poly([(206, 1147), (251, 1169), (217, 1198)], "black")

# porosity direction note
label("Colored by porosity", 2514, 347, 91, color="#ff0000", weight=700)
poly([(2301, 518), (2816, 518), (2816, 484), (2917, 535), (2816, 587), (2816, 552), (2301, 552)], "#0000ff")

rect(3142, 1728, 3300, 1877, "white", "black", 3)
label("PI", 3220, 1800, 93, weight=700)

label("Créditos: Lucia Dillon & Guenther Schwedersky", 767, 2020, 66, color="#333333", weight=700)
label("IP : Impedance (g/cm3 m/s)", 1770, 2009, 37, color="#444444", weight=700)
label("VP/VS : Anonymous", 33, 971, 37, color="#333333", weight=700, angle=-90)

fig.update_layout(
    width=W, height=H, autosize=False,
    margin=dict(l=L, r=W - R, t=T, b=H - B, pad=0),
    paper_bgcolor="white", plot_bgcolor="white", showlegend=False,
    font=dict(family="Liberation Sans", color="#444444"),
    xaxis=dict(
        range=[8000, 18000], tickmode="array", tickvals=ip_ticks, ticktext=[str(v) for v in ip_ticks],
        ticks="outside", ticklen=22, tickwidth=3, tickcolor="#333333", tickfont=dict(size=28),
        showline=True, linecolor="#333333", linewidth=4, zeroline=False,
        showgrid=True, gridcolor="#666666", gridwidth=3, griddash="3px,3px", ticklabelstandoff=6,
        minor=dict(tickmode="linear", tick0=8000, dtick=100, ticks="outside", ticklen=11, tickwidth=3,
                   tickcolor="#333333", showgrid=False),
    ),
    yaxis=dict(
        range=[1.6, 2.14], tickmode="array", tickvals=vpvs_ticks, ticktext=[f"{v:g}" for v in vpvs_ticks],
        ticks="outside", ticklen=22, tickwidth=3, tickcolor="#333333", tickfont=dict(size=27),
        showline=True, linecolor="#333333", linewidth=4, zeroline=False, ticklabelshift=6,
        showgrid=True, gridcolor="#808080", gridwidth=5, griddash="4px,2px", ticklabelstandoff=3,
        minor=dict(tickmode="linear", tick0=1.6, dtick=0.01, ticks="outside", ticklen=11, tickwidth=3,
                   tickcolor="#333333", showgrid=False),
    ),
    xaxis2=dict(domain=[px(3101), px(3223)], anchor="y2", visible=False, range=[-0.5, 0.5]),
    yaxis2=dict(
        domain=[py(1643), py(101)], anchor="x2", side="right", range=[0.03, 0.2],
        tickmode="array", tickvals=pi_ticks, ticktext=[f"{v:g}" for v in pi_ticks],
        ticks="outside", ticklen=14, tickwidth=2, tickcolor="#222222", tickfont=dict(size=24),
        ticklabelshift=8, showgrid=False, zeroline=False, showline=False,
        minor=dict(tickmode="linear", tick0=0.03, dtick=0.0025, ticks="outside", ticklen=8, tickwidth=2,
                   tickcolor="#222222", showgrid=False),
    ),
)

# the page body's default margin would push the figure off by 8px
fig.write_html("out.html", config={"displayModeBar": False},
               post_script="document.body.style.margin = '0';")
